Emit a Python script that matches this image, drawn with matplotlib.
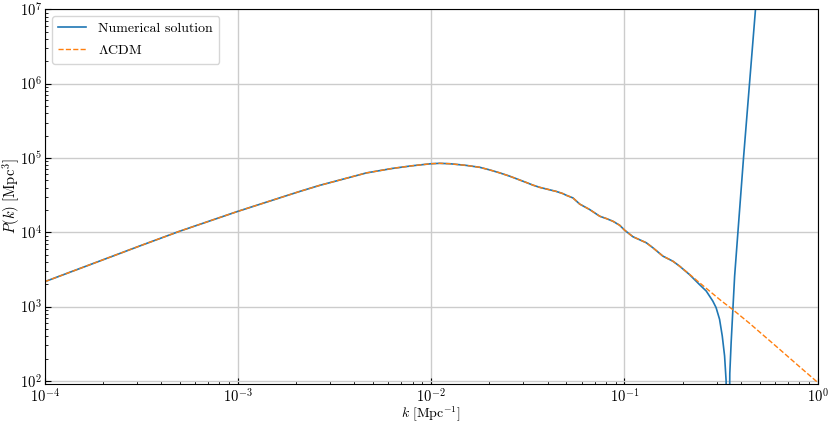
import numpy as np
import matplotlib
matplotlib.use("Agg")
import matplotlib.pyplot as plt

# log10(k) and log10(P)
lcdm_logk = [-4.0, -3.5, -3.302, -3.0, -2.681, -2.577, -2.45, -2.336, -2.2, -2.1, -2.0,
             -1.957, -1.905, -1.818, -1.75, -1.698, -1.646, -1.594, -1.508, -1.474,
             -1.439, -1.353, -1.319, -1.301, -1.267, -1.232, -1.180, -1.128, -1.094,
             -1.060, -1.025, -0.999, -0.956, -0.887, -0.853, -0.801, -0.750, -0.715,
             -0.663, -0.620, -0.5, -0.442, -0.353, -0.2, -0.1, 0.0]
lcdm_logP = [3.336, 3.825, 4.015, 4.283, 4.55, 4.632, 4.72, 4.799, 4.86, 4.895, 4.923,
             4.928, 4.923, 4.90, 4.875, 4.84, 4.80, 4.755, 4.67, 4.635,
             4.605, 4.55, 4.521, 4.498, 4.463, 4.38, 4.306, 4.216, 4.185,
             4.149, 4.095, 4.028, 3.940, 3.859, 3.792, 3.679, 3.612, 3.545,
             3.434, 3.34, 3.08, 2.965, 2.776, 2.432, 2.205, 1.98]

num_tail_logk = [-0.663, -0.611, -0.577, -0.543, -0.526, -0.508, -0.494, -0.482, -0.474,
                 -0.472, -0.465, -0.458, -0.455, -0.448, -0.439, -0.430, -0.413, -0.384,
                 -0.353, -0.322, -0.30]
num_tail_logP = [3.43, 3.295, 3.21, 3.075, 2.987, 2.83, 2.605, 2.337, 2.0,
                 1.0, 0.5, 1.0, 2.1, 2.517, 2.964, 3.41, 4.0, 5.0,
                 6.0, 7.0, 7.7]

k_lcdm = 10 ** np.array(lcdm_logk)
P_lcdm = 10 ** np.array(lcdm_logP)

n_head = lcdm_logk.index(-0.715) + 1
k_num = 10 ** np.array(lcdm_logk[:n_head] + num_tail_logk)
P_num = 10 ** np.array(lcdm_logP[:n_head] + num_tail_logP)

plt.rcParams.update({
    "font.family": "serif",
    "font.serif": ["cmr10", "DejaVu Serif"],
    "mathtext.fontset": "cm",
    "axes.formatter.use_mathtext": True,
    "font.size": 10,
})

fig = plt.figure(figsize=(8.31, 4.25), dpi=100)
ax = fig.add_axes([0.054, 0.0965, 0.930, 0.8815])

ax.plot(k_num, P_num, color="tab:blue", lw=1.2, label="Numerical solution")
ax.plot(k_lcdm, P_lcdm, color="tab:orange", lw=1.0, ls="--", label=r"$\Lambda$CDM")

ax.set_xscale("log")
ax.set_yscale("log")
ax.set_xlim(1e-4, 1e0)
ax.set_ylim(9.1e1, 1e7)
ax.grid(True, which="major", color="#cccccc", lw=1.0)
ax.tick_params(which="both", direction="in")
ax.tick_params(which="major", length=4, labelsize=10.5, pad=2)
ax.tick_params(axis="x", which="major", pad=2.5)
ax.tick_params(which="minor", length=2)
ax.set_xlabel(r"$k\ [\mathrm{Mpc}^{-1}]$", fontsize=10)
ax.set_ylabel(r"$P(k)\ [\mathrm{Mpc}^{3}]$", fontsize=10.5)
ax.xaxis.set_label_coords(0.5, -0.057)
ax.yaxis.set_label_coords(-0.029, 0.5)
ax.legend(loc="upper left", fontsize=10, handletextpad=0.9, labelspacing=0.65,
          borderpad=0.45)

fig.savefig("out.png", dpi=100)
